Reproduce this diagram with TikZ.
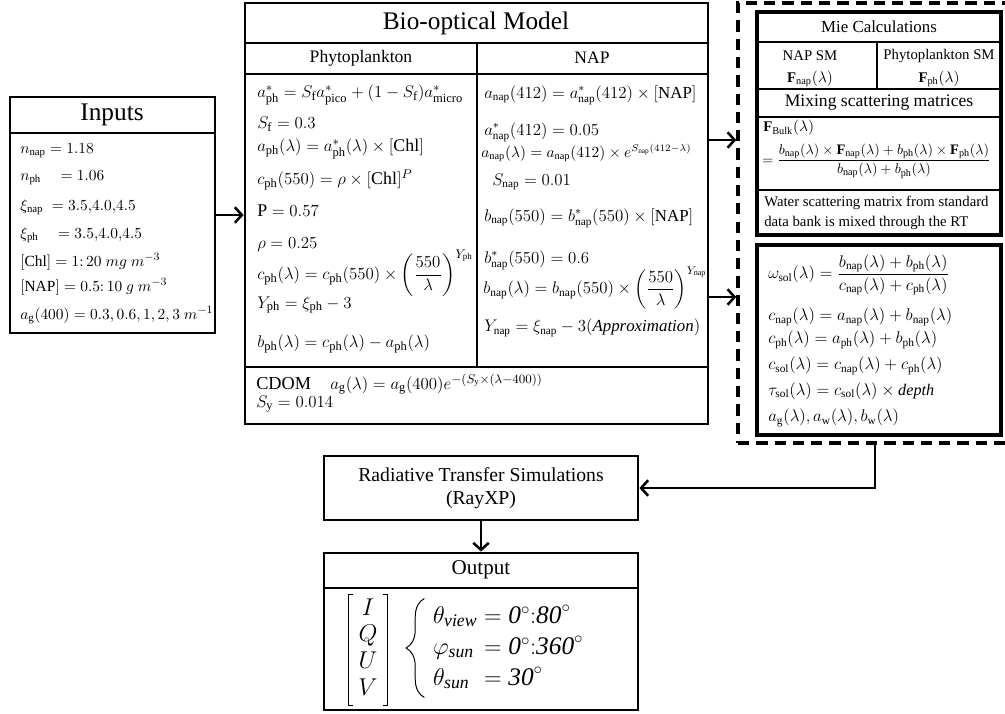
\documentclass[tikz,border=0pt]{standalone}
\usepackage{amsmath,amssymb}
\usepackage{fontspec}
\setmainfont{Liberation Serif}
\usepackage{tikz}
\usetikzlibrary{positioning,calc,fit,arrows.meta,decorations.pathreplacing}

\begin{document}
\begin{tikzpicture}[x=0.025cm, y=-0.025cm,
    box/.style={draw, line width=2pt, inner sep=0pt},
    rule/.style={line width=0.9pt},
    ttl/.style={font=\fontsize{18}{20}\selectfont},
    hdr/.style={font=\fontsize{12.5}{14}\selectfont},
    eqn/.style={anchor=west, inner sep=0pt, font=\fontsize{12}{14}\selectfont},
    eqs/.style={anchor=west, inner sep=0pt, font=\fontsize{10.5}{12}\selectfont},
    flow/.style={-{Straight Barb[length=5pt,width=11pt]}, line width=1.8pt}]

    \useasboundingbox (0,0) rectangle (1005,713);

    % Inputs
    \node[box, fit={(10,97) (215,333)}] (inputs) {};
    \draw[rule] (10,133) -- (215,133);
    \node[ttl] at (112,115) {Inputs};
    \foreach \y/\t in {
        151/{$n_{\mathrm{nap}} = 1.18$},
        178/{$n_{\mathrm{ph}}\;\;\;\, = 1.06$},
        207/{$\xi_{\mathrm{nap}}\; = 3.5{,}4.0{,}4.5$},
        235/{$\xi_{\mathrm{ph}}\;\;\;\, = 3.5{,}4.0{,}4.5$},
        262/{$[\mathrm{Chl}] = 1{:}\,20\ mg\ m^{-3}$},
        287/{$[\mathrm{NAP}] = 0.5{:}\,10\ g\ m^{-3}$},
        315/{$a_{\mathrm{g}}(400) = 0.3, 0.6, 1, 2, 3\ m^{-1}$}}
        \node[eqs, font=\fontsize{11}{13}\selectfont] at (20,\y) {\t};

    % Bio-optical Model
    \node[box, fit={(245,3) (708,424)}] (bio) {};
    \draw[rule] (245,43) -- (708,43);
    \draw[rule] (245,74) -- (708,74);
    \draw[rule] (477,43) -- (477,367);
    \draw[rule] (245,367) -- (708,367);
    \node[ttl] at (476,23) {Bio-optical Model};
    \node[hdr] at (361,58) {Phytoplankton};
    \node[hdr] at (592,58) {NAP};

    % Phytoplankton column
    \foreach \y/\t in {
        95/{$a^*_{\mathrm{ph}} = S_{\mathrm{f}}a^*_{\mathrm{pico}} + (1-S_{\mathrm{f}})a^*_{\mathrm{micro}}$},
        124/{$S_{\mathrm{f}} = 0.3$},
        149/{$a_{\mathrm{ph}}(\lambda) = a^*_{\mathrm{ph}}(\lambda)\times[\mathrm{Chl}]$},
        180/{$c_{\mathrm{ph}}(550) = \rho\times[\mathrm{Chl}]^{P}$},
        211/{$\mathrm{P} = 0.57$},
        245/{$\rho = 0.25$},
        273/{$c_{\mathrm{ph}}(\lambda) = c_{\mathrm{ph}}(550)\times\left(\dfrac{550}{\lambda}\right)^{Y_{\mathrm{ph}}}$},
        305/{$Y_{\mathrm{ph}} = \xi_{\mathrm{ph}} - 3$},
        344/{$b_{\mathrm{ph}}(\lambda) = c_{\mathrm{ph}}(\lambda) - a_{\mathrm{ph}}(\lambda)$}}
        \node[eqn, font=\fontsize{12.7}{14}\selectfont] at (257,\y) {\t};

    % NAP column
    \foreach \x/\y/\t in {
        484/95/{$a_{\mathrm{nap}}(412) = a^*_{\mathrm{nap}}(412)\times[\mathrm{NAP}]$},
        484/132/{$a^*_{\mathrm{nap}}(412) = 0.05$},
        484/218/{$b_{\mathrm{nap}}(550) = b^*_{\mathrm{nap}}(550)\times[\mathrm{NAP}]$},
        484/260/{$b^*_{\mathrm{nap}}(550) = 0.6$},
        484/328/{$Y_{\mathrm{nap}} = \xi_{\mathrm{nap}} - 3(\mathit{Approximation})$},
        492/182/{$S_{\mathrm{nap}} = 0.01$}}
        \node[eqn] at (\x,\y) {\t};
    \node[eqn, font=\fontsize{11.6}{13}\selectfont] at (483,288) {$b_{\mathrm{nap}}(\lambda) = b_{\mathrm{nap}}(550)\times\left(\dfrac{550}{\lambda}\right)^{Y_{\mathrm{nap}}}$};
    \node[eqs] at (481,153) {$a_{\mathrm{nap}}(\lambda) = a_{\mathrm{nap}}(412)\times e^{S_{\mathrm{nap}}(412-\lambda)}$};

    % CDOM
    \node[eqn, font=\fontsize{13}{15}\selectfont] at (256,384) {CDOM};
    \node[eqn, font=\fontsize{12.5}{14}\selectfont] at (330,384) {$a_{\mathrm{g}}(\lambda) = a_{\mathrm{g}}(400)e^{-(S_{\mathrm{y}}\times(\lambda-400))}$};
    \node[eqn, font=\fontsize{12.5}{14}\selectfont] at (256,404) {$S_{\mathrm{y}} = 0.014$};

    % Scattering block
    \node[box, dashed, dash pattern=on 8pt off 5pt, line width=2.4pt, fit={(738,3) (1012,443)}] (scat) {};

    % Mie Calculations
    \node[box, line width=2.4pt, fit={(757,12) (1001,235)}] (mie) {};
    \draw[rule] (757,42) -- (1001,42);
    \draw[rule] (877,42) -- (877,89);
    \draw[rule] (757,89) -- (1001,89);
    \draw[rule] (757,117) -- (1001,117);
    \draw[rule] (757,190) -- (1001,190);
    \node[hdr, font=\fontsize{12}{14}\selectfont] at (879,27) {Mie Calculations};
    \node[font=\fontsize{10.5}{12}\selectfont] at (810,56) {NAP SM};
    \node[font=\fontsize{10.5}{12}\selectfont] at (939,56) {Phytoplankton SM};
    \node[font=\fontsize{10.5}{12}\selectfont] at (810,79) {$\mathbf{F}_{\mathrm{nap}}(\lambda)$};
    \node[font=\fontsize{10.5}{12}\selectfont] at (939,79) {$\mathbf{F}_{\mathrm{ph}}(\lambda)$};
    \node[font=\fontsize{12.5}{15}\selectfont] at (879,103) {Mixing scattering matrices};
    \node[eqs] at (763,128) {$\mathbf{F}_{\mathrm{Bulk}}(\lambda)$};
    \node[eqs, font=\fontsize{10.3}{12}\selectfont] at (762,161) {$=\dfrac{b_{\mathrm{nap}}(\lambda)\times\mathbf{F}_{\mathrm{nap}}(\lambda) + b_{\mathrm{ph}}(\lambda)\times\mathbf{F}_{\mathrm{ph}}(\lambda)}{b_{\mathrm{nap}}(\lambda)+b_{\mathrm{ph}}(\lambda)}$};
    \node[eqs, align=left, font=\fontsize{10.5}{14}\selectfont] at (764,213) {Water scattering matrix from standard\\data bank is mixed through the RT};

    % Single scattering albedo and optical depth
    \node[box, line width=2.4pt, fit={(757,245) (1001,435)}] (albedo) {};
    \foreach \y/\t in {
        275/{$\omega_{\mathrm{sol}}(\lambda) = \dfrac{b_{\mathrm{nap}}(\lambda)+b_{\mathrm{ph}}(\lambda)}{c_{\mathrm{nap}}(\lambda)+c_{\mathrm{ph}}(\lambda)}$},
        317/{$c_{\mathrm{nap}}(\lambda) = a_{\mathrm{nap}}(\lambda) + b_{\mathrm{nap}}(\lambda)$},
        340/{$c_{\mathrm{ph}}(\lambda) = a_{\mathrm{ph}}(\lambda) + b_{\mathrm{ph}}(\lambda)$},
        366/{$c_{\mathrm{sol}}(\lambda) = c_{\mathrm{nap}}(\lambda) + c_{\mathrm{ph}}(\lambda)$},
        391/{$\tau_{\mathrm{sol}}(\lambda) = c_{\mathrm{sol}}(\lambda)\times \mathit{depth}$},
        418/{$a_{\mathrm{g}}(\lambda), a_{\mathrm{w}}(\lambda), b_{\mathrm{w}}(\lambda)$}}
        \node[eqn, font=\fontsize{11.5}{13}\selectfont] at (768,\y) {\t};

    % Radiative transfer
    \node[box, fit={(324,456) (638,520)}] (rt) {};
    \node[align=center, font=\fontsize{14}{16}\selectfont] at (rt) {Radiative Transfer Simulations\\(RayXP)};

    % Output
    \node[box, fit={(324,553) (638,710)}] (out) {};
    \draw[rule] (324,588) -- (638,588);
    \node[font=\fontsize{15}{17}\selectfont] at (481,570) {Output};
    \node[inner xsep=7pt, inner ysep=1pt, font=\fontsize{17}{19}\selectfont] (stokes) at (368,650)
        {$\begin{matrix} I\\ Q\\ U\\ V\end{matrix}$};
    \draw[line width=0.8pt] ([xshift=3pt]stokes.north west) -| (stokes.south west) -- ++(3pt,0);
    \draw[line width=0.8pt] ([xshift=-3pt]stokes.north east) -| (stokes.south east) -- ++(-3pt,0);
    \node[inner sep=2pt, anchor=west, font=\fontsize{18}{22}\selectfont] (angles) at (430,648)
        {$\begin{array}{@{}l@{\;}l@{}}
            \theta_{\mathit{view}} & = \mathit{0}^{\circ}{:}\mathit{80}^{\circ}\\
            \varphi_{\mathit{sun}} & = \mathit{0}^{\circ}{:}\mathit{360}^{\circ}\\
            \theta_{\mathit{sun}} & = \mathit{30}^{\circ}
        \end{array}$};
    \draw[line width=0.7pt, decorate, decoration={brace, amplitude=13pt}]
        ([xshift=-4pt]angles.south west) -- ([xshift=-4pt]angles.north west);

    % Connectors
    \coordinate (mix) at (0,140);
    \coordinate (opt) at (0,297);
    \coordinate (drop) at (875,0);
    \draw[flow] (inputs.east) -- (inputs.east -| bio.west);
    \draw[flow] (bio.east |- mix) -- (scat.west |- mix);
    \draw[flow] (bio.east |- opt) -- (scat.west |- opt);
    \draw[flow] (scat.south -| drop) |- (rt.east);
    \draw[flow] (rt.south) -- (out.north);
\end{tikzpicture}
\end{document}
